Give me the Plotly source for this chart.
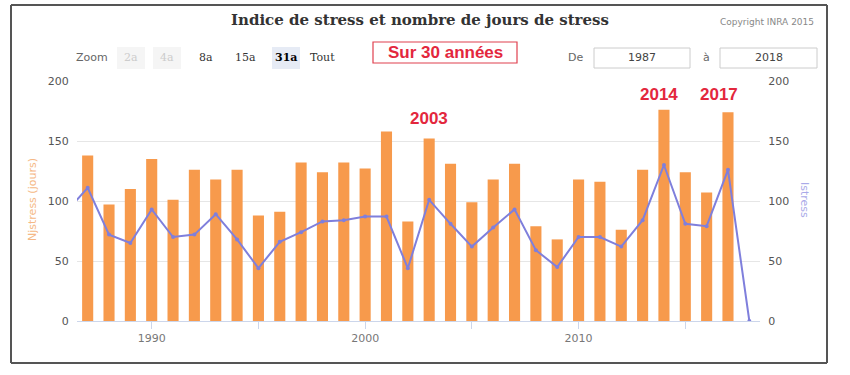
import plotly.graph_objects as go

# ---- data ----
bar_years = list(range(1987, 2018))
njstress = [138, 97, 110, 135, 101, 126, 118, 126, 88, 91, 132, 124, 132, 127, 158,
            83, 152, 131, 99, 118, 131, 79, 68, 118, 116, 76, 126, 176, 124, 107, 174]
line_years = list(range(1986, 2019))
istress = [91, 111, 72, 65, 93, 70, 72, 89, 68, 44, 66, 74, 83, 84, 87, 87,
           44, 101, 81, 62, 78, 93, 59, 45, 70, 70, 62, 84, 130, 81, 79, 126, 0]
y_ticks = [0, 50, 100, 150, 200]
x_tickvals = [1990, 1995, 2000, 2005, 2010, 2015]
x_ticktext = ["1990", "", "2000", "", "2010", ""]
highlights = [("2003", 2003, 169), ("2014", 2013.75, 189), ("2017", 2016.6, 189)]

W, H = 850, 372
L, T = 77, 81
R, B = 90, 51
PW, PH = W - L - R, H - T - B


def px(x):
    return (x - L) / PW


def py(y):
    return (H - B - y) / PH


fig = go.Figure()
fig.add_trace(go.Bar(x=bar_years, y=njstress, marker_color="#f79a4c",
                     marker_line_width=0, width=0.52, name="Njstress"))
fig.add_trace(go.Scatter(x=line_years, y=istress, yaxis="y2", mode="lines+markers",
                         line=dict(color="#7f7fdc", width=2),
                         marker=dict(size=4, color="#7f7fdc"), name="Istress"))

shapes = []
ann = []

# outer border (four edges)
for (xa, ya, xb, yb) in [(11, 5, 827, 5), (11, 363, 827, 363), (11, 5, 11, 363), (827, 5, 827, 363)]:
    shapes.append(dict(type="line", xref="paper", yref="paper", x0=px(xa), x1=px(xb),
                       y0=py(ya), y1=py(yb), line=dict(color="#555", width=2), layer="above"))

# title & copyright
ann.append(dict(text="<b>Indice de stress et nombre de jours de stress</b>", x=px(420), y=py(20),
                font=dict(family="DejaVu Serif", size=15, color="#333")))
ann.append(dict(text="Copyright INRA 2015", x=px(767), y=py(22),
                font=dict(family="DejaVu Sans", size=9, color="#888")))

# zoom buttons
ann.append(dict(text="Zoom", x=px(92), y=py(58), font=dict(family="DejaVu Sans", size=11, color="#666")))
buttons = [("2a", 131, "#f5f5f5", "#ccc", False), ("4a", 167, "#f5f5f5", "#ccc", False),
           ("8a", 206, None, "#333", False), ("15a", 245, None, "#333", False),
           ("31a", 286, "#e6ebf5", "#000", True), ("Tout", 322, None, "#333", False)]
for label, cx, bg, col, sel in buttons:
    if bg:
        shapes.append(dict(type="rect", xref="paper", yref="paper", x0=px(cx - 14), x1=px(cx + 14),
                           y0=py(69), y1=py(47), fillcolor=bg, line=dict(width=0), layer="below"))
    ann.append(dict(text=f"<b>{label}</b>" if sel else label, x=px(cx), y=py(58),
                    font=dict(family="DejaVu Serif", size=11, color=col)))

# red boxed label
shapes.append(dict(type="rect", xref="paper", yref="paper", x0=px(373), x1=px(517), y0=py(63), y1=py(42),
                   line=dict(color="#e0404f", width=1.2), fillcolor="white"))
ann.append(dict(text="<b>Sur 30 années</b>", x=px(445), y=py(52),
                font=dict(family="Liberation Sans", size=17, color="#e3273d")))

# range inputs
ann.append(dict(text="De", x=px(575), y=py(58), font=dict(family="DejaVu Sans", size=11, color="#666")))
ann.append(dict(text="à", x=px(706), y=py(58), font=dict(family="DejaVu Sans", size=11, color="#666")))
for x0, x1, val in [(594, 690, "1987"), (720, 817, "2018")]:
    shapes.append(dict(type="rect", xref="paper", yref="paper", x0=px(x0), x1=px(x1), y0=py(68), y1=py(48),
                       line=dict(color="#ccc", width=1), fillcolor="white"))
    ann.append(dict(text=val, x=px((x0 + x1) / 2), y=py(58),
                    font=dict(family="DejaVu Sans", size=11, color="#444")))

# axis titles
ann.append(dict(text="Njstress (jours)", x=px(32), y=py(200), textangle=-90,
                font=dict(family="DejaVu Sans", size=11, color="#f5b886")))
ann.append(dict(text="Istress", x=px(805), y=py(200), textangle=90,
                font=dict(family="DejaVu Sans", size=11, color="#a9a9e8")))

for a in ann:
    a.update(xref="paper", yref="paper", showarrow=False, xanchor="center", yanchor="middle")

for txt, xv, yv in highlights:
    ann.append(dict(text=f"<b>{txt}</b>", x=xv, y=yv, xref="x", yref="y", showarrow=False,
                    font=dict(family="Liberation Sans", size=17, color="#e3273d")))

fig.update_layout(
    width=W, height=H, margin=dict(l=L, r=R, t=T, b=B),
    paper_bgcolor="white", plot_bgcolor="white", showlegend=False,
    bargap=0.48, shapes=shapes, annotations=ann,
    xaxis=dict(range=[1986.5, 2018.5], tickvals=x_tickvals, ticktext=x_ticktext,
               ticks="outside", ticklen=7, tickcolor="#ccd6eb", showgrid=False,
               showline=True, linecolor="#ccd6eb", zeroline=False,
               tickfont=dict(family="DejaVu Sans", size=11, color="#777")),
    yaxis=dict(range=[0, 200], tickvals=y_ticks, showgrid=True, gridcolor="#e6e6e6",
               zeroline=False, tickfont=dict(family="DejaVu Sans", size=11, color="#555"),
               ticks="outside", ticklen=5, tickcolor="rgba(0,0,0,0)"),
    yaxis2=dict(range=[0, 200], tickvals=y_ticks, overlaying="y", side="right",
                showgrid=False, zeroline=False,
                tickfont=dict(family="DejaVu Sans", size=11, color="#555"),
                ticks="outside", ticklen=5, tickcolor="rgba(0,0,0,0)"),
)

fig.write_html("out.html", config={"displayModeBar": False},
               post_script="document.body.style.margin='0';document.body.style.overflow='hidden';")
